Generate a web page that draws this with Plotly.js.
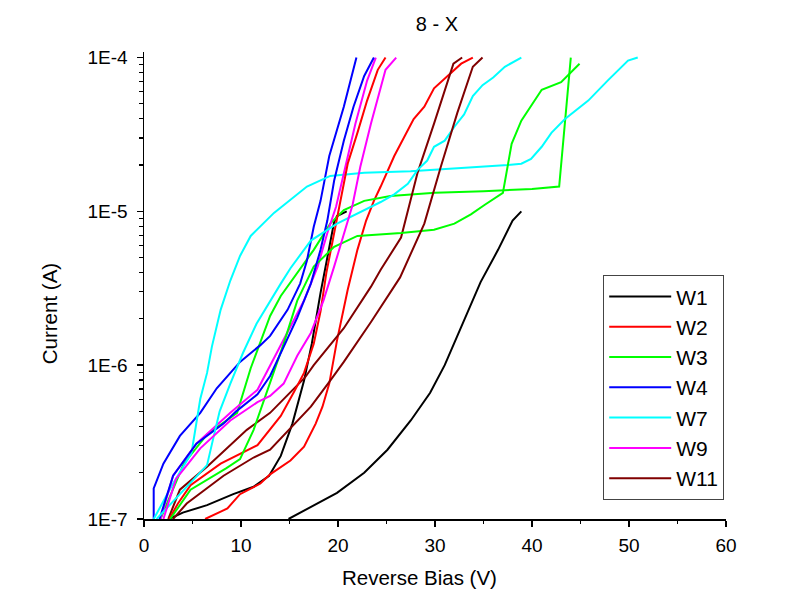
<!DOCTYPE html>
<html><head><meta charset="utf-8">
<script src="https://cdn.plot.ly/plotly-3.0.1.min.js"></script>
<style>html,body{margin:0;padding:0;background:#fff}#chart{width:809px;height:598px}</style>
</head><body><div id="chart"></div>
<script>
// Reverse bias (V) and current (A), two devices per wafer
const w1aV = [2.6,4,6.5,9.2,11.3,12.9,14.1,15.3,16.5,17.3,18.2,18.9,19.6,19.9,20.9];
const w1aI = [1.0e-7,1.10e-7,1.23e-7,1.45e-7,1.62e-7,1.91e-7,2.57e-7,4.17e-7,7.94e-7,1.38e-6,2.95e-6,5.13e-6,8.51e-6,9.33e-6,1.0e-5];
const w1bV = [14.9,17.2,19.9,22.7,25.1,27.5,29.5,31.0,32.7,34.7,36.5,38.0,38.9];
const w1bI = [1.0e-7,1.20e-7,1.48e-7,2.0e-7,2.82e-7,4.37e-7,6.61e-7,1.0e-6,1.78e-6,3.47e-6,5.62e-6,8.71e-6,1.0e-5];

const w2aV = [6.3,8.6,9.9,12.0,13.0,15.1,16.5,17.7,18.4,19.1,19.9,21.0,22.0,22.9,23.7,24.4,25.8,27.8,28.9,29.9,31.3,32.7,33.9];
const w2aI = [1.0e-7,1.17e-7,1.45e-7,1.70e-7,1.95e-7,2.40e-7,2.95e-7,4.17e-7,5.37e-7,7.59e-7,1.45e-6,3.09e-6,5.62e-6,8.71e-6,1.17e-5,1.45e-5,2.29e-5,3.98e-5,4.79e-5,6.31e-5,7.59e-5,9.12e-5,1.0e-4];
const w2bV = [2.6,3.5,4.8,7.9,11.7,14.1,15.5,16.5,17.5,18.2,18.8,19.6,20.3,21.0,22.0,23.0,24.1,24.9];
const w2bI = [1.0e-7,1.26e-7,1.66e-7,2.29e-7,3.02e-7,4.68e-7,6.76e-7,8.91e-7,1.38e-6,2.24e-6,3.98e-6,7.24e-6,1.26e-5,2.04e-5,3.24e-5,5.25e-5,8.32e-5,1.0e-4];

const w3aV = [1.7,4.1,6.5,9.6,11.0,12.0,13.0,14.1,15.1,17.5,19.2,20.6,22.7,25.4,30,35,40,42.8,44.0];
const w3aI = [1.0e-7,2.29e-7,3.55e-7,4.90e-7,9.55e-7,1.41e-6,2.09e-6,2.82e-6,3.47e-6,5.62e-6,8.32e-6,1.02e-5,1.17e-5,1.26e-5,1.32e-5,1.35e-5,1.40e-5,1.45e-5,1.0e-4];
const w3bV = [2.7,4.8,8.5,9.9,11.3,13.0,14.4,15.8,17.5,19.6,22.0,26.5,29.9,32.0,33.7,35.1,37.0,37.9,38.9,41.0,43.0,44.9];
const w3bI = [1.0e-7,1.55e-7,2.14e-7,2.45e-7,3.80e-7,7.76e-7,1.38e-6,2.63e-6,4.37e-6,5.89e-6,6.92e-6,7.24e-6,7.59e-6,8.32e-6,9.55e-6,1.10e-5,1.32e-5,2.75e-5,3.89e-5,6.17e-5,6.92e-5,9.12e-5];

const w4aV = [1.0,1.0,2.0,3.7,5.8,7.5,9.9,12.0,13.0,14.8,16.1,16.8,17.5,18.2,19.1,20.6,21.9];
const w4aI = [6.3e-8,1.58e-7,2.29e-7,3.47e-7,4.90e-7,7.08e-7,1.05e-6,1.35e-6,1.55e-6,2.29e-6,3.39e-6,4.79e-6,7.94e-6,1.17e-5,2.29e-5,4.79e-5,1.0e-4];
const w4bV = [1.6,3.0,5.4,8.2,9.5,11.7,13.0,14.4,15.8,17.2,18.2,18.9,19.6,20.6,21.6,22.7,23.7];
const w4bI = [1.0e-7,1.91e-7,3.09e-7,4.17e-7,5.01e-7,6.46e-7,8.51e-7,1.32e-6,2.04e-6,3.39e-6,5.62e-6,8.71e-6,1.58e-5,2.88e-5,4.79e-5,7.59e-5,1.0e-4];

const w7aV = [1.0,3.0,4.9,5.8,6.5,7.0,7.9,8.9,9.9,11.0,13.4,16.8,19.2,22.7,27.5,33,37.5,38.9,39.9,41.0,42.0,43.4,45.8,47.8,49.9,50.9];
const w7aI = [1.0e-7,1.70e-7,2.69e-7,6.03e-7,8.91e-7,1.32e-6,2.29e-6,3.55e-6,5.13e-6,6.92e-6,9.77e-6,1.45e-5,1.70e-5,1.78e-5,1.82e-5,1.91e-5,2.0e-5,2.04e-5,2.19e-5,2.63e-5,3.24e-5,3.98e-5,5.25e-5,7.08e-5,9.55e-5,1.0e-4];
const w7bV = [1.3,3.5,4.8,6.5,7.2,7.8,8.9,10.2,11.6,13.0,14.1,15.1,17.2,19.9,22.7,24.4,25.8,27.2,28.2,29.2,29.9,31.0,32.0,33.0,33.9,34.9,36.0,37.2,38.9];
const w7bI = [1.0e-7,1.41e-7,1.70e-7,2.24e-7,3.47e-7,5.01e-7,7.59e-7,1.20e-6,1.86e-6,2.63e-6,3.39e-6,4.27e-6,6.46e-6,8.32e-6,1.02e-5,1.15e-5,1.29e-5,1.51e-5,1.86e-5,2.14e-5,2.63e-5,2.88e-5,3.55e-5,4.27e-5,5.62e-5,6.61e-5,7.41e-5,8.71e-5,1.0e-4];

const w9aV = [1.7,3.0,5.4,8.9,11.7,13.0,15.1,16.5,17.9,18.9,19.8,20.6,21.8,23.0,23.9];
const w9aI = [1.0e-7,1.91e-7,3.09e-7,4.90e-7,6.92e-7,1.0e-6,1.78e-6,2.63e-6,4.37e-6,7.24e-6,1.07e-5,1.78e-5,3.72e-5,7.08e-5,1.0e-4];
const w9bV = [2.0,3.3,5.8,8.9,11.7,13.0,14.4,15.8,17.2,18.5,19.6,20.6,21.5,22.3,23.4,24.9,26.0];
const w9bI = [1.0e-7,1.82e-7,2.88e-7,4.37e-7,5.75e-7,6.31e-7,7.59e-7,1.15e-6,1.62e-6,2.63e-6,4.37e-6,7.24e-6,1.10e-5,1.95e-5,3.72e-5,8.32e-5,1.0e-4];

const w11aV = [2.5,3.7,6.5,10.6,13.0,14.1,16.6,17.5,20.6,23.4,24.4,26.5,28.2,29.9,31.3,31.9,32.8];
const w11aI = [1.0e-7,1.55e-7,2.19e-7,3.80e-7,4.90e-7,5.75e-7,8.32e-7,1.0e-6,1.74e-6,3.24e-6,4.17e-6,6.76e-6,1.78e-5,3.72e-5,7.08e-5,9.12e-5,1.0e-4];
const w11bV = [3.0,4.4,8.2,11.3,13.0,15.1,17.2,19.2,20.6,23.4,26.4,28.9,30.6,32.3,33.9,34.9];
const w11bI = [1.0e-7,1.26e-7,1.91e-7,2.51e-7,2.82e-7,3.89e-7,5.37e-7,7.94e-7,1.05e-6,1.91e-6,3.72e-6,8.32e-6,1.95e-5,4.37e-5,8.71e-5,1.0e-4];

const seriesNames = ["W1","W2","W3","W4","W7","W9","W11"];
const seriesColors = ["#000000","#ff0000","#00ff00","#0000ff","#00ffff","#ff00ff","#800000"];
const curves = [
  [0,w1aV,w1aI],[1,w2aV,w2aI],[2,w3aV,w3aI],[3,w4aV,w4aI],[4,w7aV,w7aI],[5,w9aV,w9aI],[6,w11aV,w11aI],
  [0,w1bV,w1bI],[1,w2bV,w2bI],[2,w3bV,w3bI],[3,w4bV,w4bI],[4,w7bV,w7bI],[5,w9bV,w9bI],[6,w11bV,w11bI]
];
const yTickVals = [1e-7,1e-6,1e-5,1e-4];
const yTickText = ["1E-7","1E-6","1E-5","1E-4"];
const yMinorVals = [];
[1e-7,1e-6,1e-5].forEach(d=>{for(let k=2;k<=9;k++) yMinorVals.push(k*d);});

const traces = curves.map((c,i)=>({
  x:c[1], y:c[2], type:'scatter', mode:'lines',
  name:seriesNames[c[0]], legendgroup:seriesNames[c[0]], showlegend:i<7,
  line:{color:seriesColors[c[0]], width:2}
}));

const font = "Liberation Sans, Arial, sans-serif";
const layout = {
  width:809, height:598,
  margin:{l:144, r:83, t:52, b:79},
  paper_bgcolor:'#fff', plot_bgcolor:'#fff',
  showlegend:true,
  title:{text:"8 - X", x:0.54, xanchor:'center', y:0.96, yanchor:'middle', font:{family:font, size:20, color:'#000'}},
  xaxis:{range:[0,60], dtick:10, tick0:0, showgrid:false, zeroline:false,
    showline:true, linecolor:'#000', linewidth:1.5, ticks:'outside', ticklen:6, tickwidth:1.5, tickcolor:'#000',
    tickfont:{family:font, size:19, color:'#000'}, ticklabelstandoff:3,
    minor:{dtick:5, ticks:'outside', ticklen:3.5, tickwidth:1.2, tickcolor:'#000', showgrid:false}},
  yaxis:{type:'log', range:[-7,-3.964], tickmode:'array', tickvals:yTickVals, ticktext:yTickText,
    showgrid:false, zeroline:false, showline:true, linecolor:'#000', linewidth:1.5,
    ticks:'outside', ticklen:6, tickwidth:1.5, tickcolor:'#000',
    tickfont:{family:font, size:19, color:'#000'}, ticklabelstandoff:5,
    minor:{tickmode:'array', tickvals:yMinorVals, ticks:'outside', ticklen:3.5, tickwidth:1.2, tickcolor:'#000', showgrid:false}},
  legend:{x:0.789, xanchor:'left', y:0.522, yanchor:'top', bgcolor:'#fff', bordercolor:'#444', borderwidth:1,
    font:{family:font, size:21, color:'#000'}, itemwidth:62, tracegroupgap:0},
  annotations:[
    {text:"Reverse Bias (V)", xref:'paper', yref:'paper', x:0.474, y:-0.126, xanchor:'center', yanchor:'middle', showarrow:false, font:{family:font, size:20.5, color:'#000'}},
    {text:"Current (A)", xref:'paper', yref:'paper', x:-0.162, y:0.44, xanchor:'center', yanchor:'middle', textangle:-90, showarrow:false, font:{family:font, size:20.5, color:'#000'}}
  ]
};
Plotly.newPlot('chart', traces, layout, {displayModeBar:false, staticPlot:true});
</script>
</body></html>
